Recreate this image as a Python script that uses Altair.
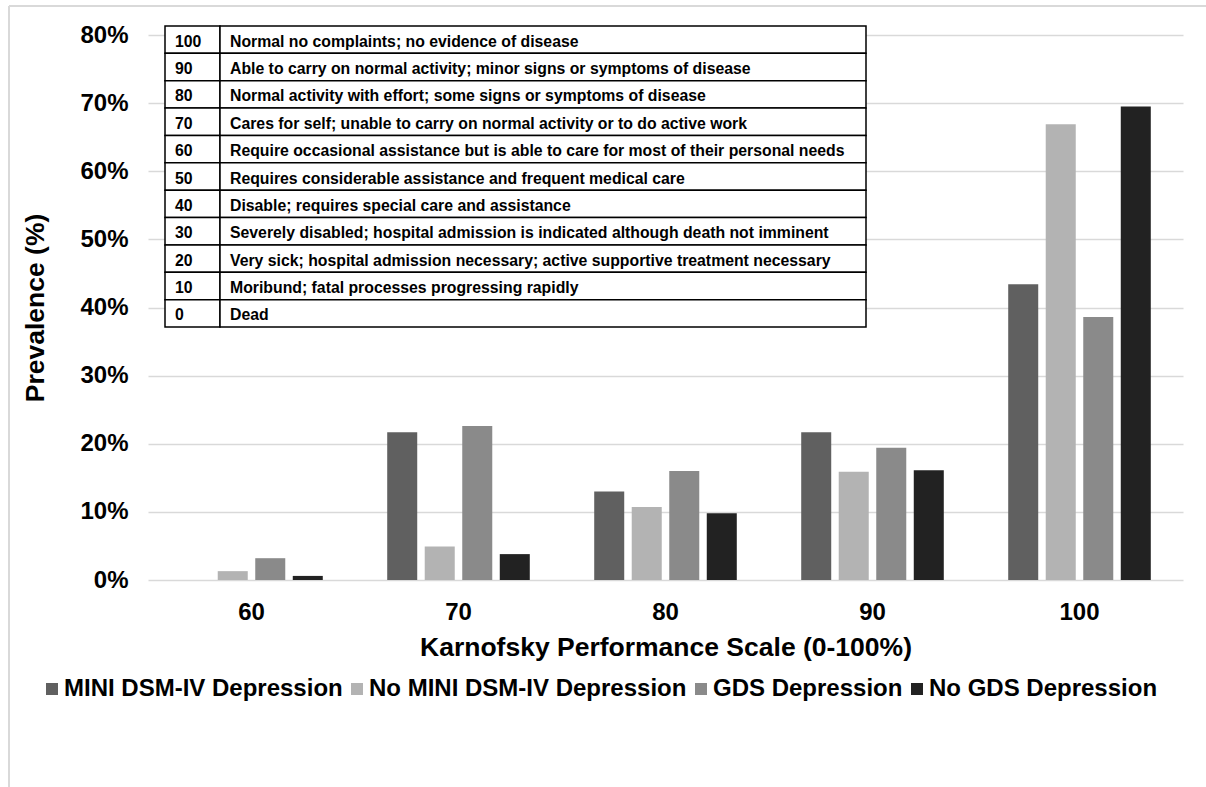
import altair as alt
import pandas as pd

# ---- data ----
categories = ["60", "70", "80", "90", "100"]
series = ["MINI DSM-IV Depression", "No MINI DSM-IV Depression", "GDS Depression", "No GDS Depression"]
colors = ["#606060", "#b3b3b3", "#8a8a8a", "#222222"]

mini_dep = [0.0, 21.7, 13.0, 21.7, 43.4]
no_mini_dep = [1.3, 4.9, 10.7, 15.9, 66.9]
gds_dep = [3.2, 22.6, 16.0, 19.4, 38.6]
no_gds_dep = [0.6, 3.8, 9.8, 16.1, 69.5]

kps_scores = ["100", "90", "80", "70", "60", "50", "40", "30", "20", "10", "0"]
kps_desc = [
    "Normal no complaints; no evidence of disease",
    "Able to carry on normal activity; minor signs or symptoms of disease",
    "Normal activity with effort; some signs or symptoms of disease",
    "Cares for self; unable to carry on normal activity or to do active work",
    "Require occasional assistance but is able to care for most of their personal needs",
    "Requires considerable assistance and frequent medical care",
    "Disable; requires special care and assistance",
    "Severely disabled; hospital admission is indicated although death not imminent",
    "Very sick; hospital admission necessary; active supportive treatment necessary",
    "Moribund; fatal processes progressing rapidly",
    "Dead",
]

y_ticks = [0, 10, 20, 30, 40, 50, 60, 70, 80]

rows = []
for s, vals in zip(series, [mini_dep, no_mini_dep, gds_dep, no_gds_dep]):
    for c, v in zip(categories, vals):
        rows.append({"kps": c, "series": s, "value": v})
bar_df = pd.DataFrame(rows)

table_df = pd.DataFrame({"score": kps_scores, "desc": kps_desc, "row": list(range(len(kps_scores)))})

FONT = "Liberation Sans"

# ---- geometry (plot area 148..1183 x 35..580) ----
PL, PT = 148, 35
W, H = 1035, 545

bars = alt.Chart(bar_df).mark_bar(strokeWidth=0).encode(
    x=alt.X("kps:N", sort=categories,
            scale=alt.Scale(paddingInner=0.275, paddingOuter=0.1375),
            axis=alt.Axis(title="Karnofsky Performance Scale (0-100%)", labelAngle=0,
                          labelFontSize=24, labelFontWeight="bold", labelFont=FONT, labelColor="black",
                          labelPadding=20, ticks=False, domain=False, grid=False,
                          titleFontSize=26.5, titleFontWeight="bold", titleFont=FONT, titleColor="black",
                          titleY=67, titleBaseline="middle")),
    xOffset=alt.XOffset("series:N", sort=series,
                        scale=alt.Scale(paddingInner=0.2, paddingOuter=0.1)),
    y=alt.Y("value:Q", scale=alt.Scale(domain=[0, 80], nice=False),
            axis=alt.Axis(values=y_ticks, labelExpr="datum.value + '%'",
                          title="Prevalence (%)", labelFontSize=24, labelFontWeight="bold",
                          labelFont=FONT, labelColor="black", labelPadding=20,
                          ticks=False, domain=False, grid=True, gridColor="#d9d9d9", gridWidth=1.5,
                          titleFontSize=26.5, titleFontWeight="bold", titleFont=FONT, titleColor="black",
                          titleX=-113, titleBaseline="middle")),
    color=alt.Color("series:N", sort=series,
                    scale=alt.Scale(domain=series, range=colors),
                    legend=alt.Legend(title=None, orient="none", direction="horizontal", columns=4,
                                      legendX=-108, legendY=642, symbolType="square", symbolSize=144,
                                      symbolStrokeWidth=0, labelFontSize=24, labelFontWeight="bold",
                                      labelFont=FONT, labelColor="black", labelOffset=0, labelLimit=0,
                                      columnPadding=2, padding=0)),
)

row_scale = alt.Scale(range=[26 - PT, 327 - PT], paddingInner=0, paddingOuter=0)

num_cells = alt.Chart(table_df).mark_rect(fill="white", stroke="black", strokeWidth=1.5).encode(
    y=alt.Y("row:O", axis=None, scale=row_scale),
    x=alt.value(165 - PL), x2=alt.value(220 - PL),
)
desc_cells = alt.Chart(table_df).mark_rect(fill="white", stroke="black", strokeWidth=1.5).encode(
    y=alt.Y("row:O", axis=None, scale=row_scale),
    x=alt.value(220 - PL), x2=alt.value(866 - PL),
)
num_text = alt.Chart(table_df).mark_text(align="left", baseline="middle", fontSize=15.8,
                                         fontWeight="bold", font=FONT, color="black", dy=2).encode(
    y=alt.Y("row:O", axis=None, scale=row_scale),
    x=alt.value(175 - PL),
    text="score:N",
)
desc_text = alt.Chart(table_df).mark_text(align="left", baseline="middle", fontSize=15.8,
                                          fontWeight="bold", font=FONT, color="black", dy=2).encode(
    y=alt.Y("row:O", axis=None, scale=row_scale),
    x=alt.value(230 - PL),
    text="desc:N",
)

frame_df = pd.DataFrame({"k": [0]})
frame_top = alt.Chart(frame_df).mark_rule(color="#d9d9d9", strokeWidth=2).encode(
    x=alt.value(9 - PL), x2=alt.value(1206 - PL), y=alt.value(6 - PT))
frame_left = alt.Chart(frame_df).mark_rule(color="#d9d9d9", strokeWidth=2).encode(
    x=alt.value(9 - PL), y=alt.value(6 - PT), y2=alt.value(787 - PT))

chart = alt.layer(bars, num_cells, desc_cells, num_text, desc_text, frame_top, frame_left).resolve_scale(
    y="independent"
).properties(
    width=W, height=H,
    autosize=alt.AutoSizeParams(type="none"),
    padding={"left": PL, "top": PT, "right": 1206 - PL - W, "bottom": 787 - PT - H},
    background="white",
).configure_view(stroke=None)

chart.save("out.html", embed_options={"renderer": "svg", "actions": False})
